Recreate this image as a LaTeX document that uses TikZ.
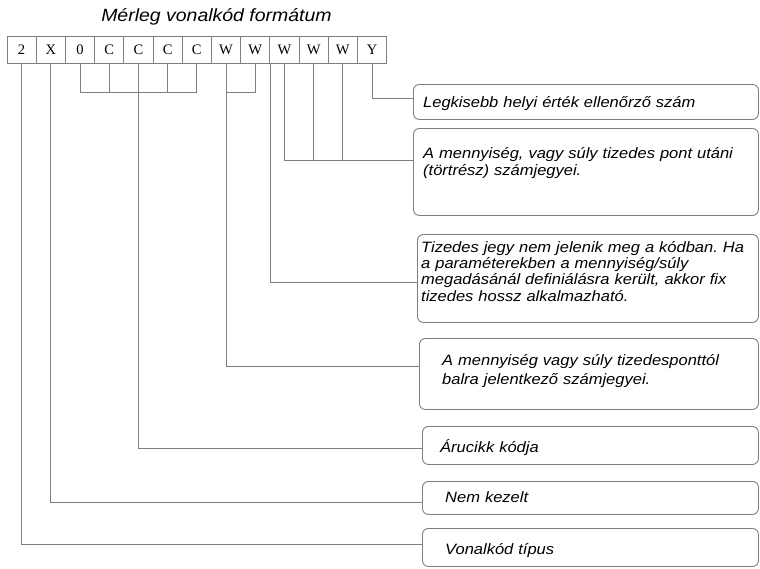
\documentclass[tikz,border=0pt]{standalone}
\usepackage{fontspec}
\setmainfont{Liberation Serif}
\newfontfamily\notefont[FakeStretch=1.1]{Liberation Sans}
\usetikzlibrary{positioning, calc}
\definecolor{linegray}{HTML}{7F7F7F}
\frenchspacing

\tikzset{
    digit/.style = {draw=linegray, line width=0.9pt, minimum width=29.2pt, minimum height=27pt, inner sep=0pt, font=\fontsize{14.5}{16}\selectfont},
    link/.style = {draw=linegray, line width=0.9pt},
    infobox/.style = {draw=linegray, line width=0.9pt, rounded corners=6pt, anchor=north west, inner sep=0pt},
    infotext/.style = {anchor=base west, inner sep=0pt, align=left, text width=335pt, font=\notefont\itshape\fontsize{15}{17}\selectfont},
    heading/.style = {anchor=base, inner sep=0pt, font=\notefont\itshape\fontsize{17.7}{20}\selectfont}
}

\begin{document}
\begin{tikzpicture}[x=1pt, y=-1pt]
        \useasboundingbox (0,0) rectangle (760,568);

        \node[heading] (cim) at (216.5,21) {Mérleg vonalkód formátum};

        % digits of the code
        \foreach \c [count=\i] in {2,X,0,C,C,C,C,W,W,W,W,W,Y}
            \node[digit] (d\i) at ({7+29.2*(\i-0.5)},49.5) {\c};

        % explanation boxes
        \node[infobox, minimum width=345pt, minimum height=35pt] (legk) at (413,84) {};
        \node[infobox, minimum width=345pt, minimum height=87pt] (tort) at (413,128) {};
        \node[infobox, minimum width=341pt, minimum height=88pt] (tiz) at (417,234) {};
        \node[infobox, minimum width=339pt, minimum height=71pt] (egesz) at (419,338) {};
        \node[infobox, minimum width=336pt, minimum height=38pt] (aru) at (422,426) {};
        \node[infobox, minimum width=336pt, minimum height=33pt] (nem) at (422,481) {};
        \node[infobox, minimum width=336pt, minimum height=38pt] (vonal) at (422,528) {};

        \node[infotext] (legk-t) at ([shift={(10,23)}]legk.north west) {Legkisebb helyi érték ellenőrző szám};
        \node[infotext] (tort-t) at ([shift={(10,30)}]tort.north west) {A mennyiség, vagy súly tizedes pont utáni\\(törtrész) számjegyei.};
        \node[infotext, font=\notefont\itshape\fontsize{15}{16.4}\selectfont] (tiz-t) at ([shift={(4,18)}]tiz.north west) {Tizedes jegy nem jelenik meg a kódban. Ha\\a paraméterekben a mennyiség/súly\\megadásánál definiálásra került, akkor fix\\tizedes hossz alkalmazható.};
        \node[infotext, font=\notefont\itshape\fontsize{15}{19}\selectfont] (egesz-t) at ([shift={(23,27)}]egesz.north west) {A mennyiség vagy súly tizedesponttól\\balra jelentkező számjegyei.};
        \node[infotext] (aru-t) at ([shift={(18,26)}]aru.north west) {Árucikk kódja};
        \node[infotext] (nem-t) at ([shift={(23,21)}]nem.north west) {Nem kezelt};
        \node[infotext] (vonal-t) at ([shift={(23,26)}]vonal.north west) {Vonalkód típus};

        % connectors
        \coordinate (cbar) at (0,92);
        \coordinate (fbar) at (0,160);

        \draw[link] (d1.south) |- ([yshift=3pt]vonal.west);
        \draw[link] (d2.south) |- ([yshift=-4.5pt]nem.west);

        \draw[link] (d3.south) |- (d7.south |- cbar) -- (d7.south);
        \foreach \k in {4,6}
            \draw[link] (d\k.south) -- (d\k.south |- cbar);
        \draw[link] (d5.south) |- ([yshift=-3pt]aru.west);

        \draw[link] (d8.south) |- (d9.south |- cbar) -- (d9.south);
        \draw[link] (d8.south) |- ([yshift=7.5pt]egesz.west);

        \draw[link] ([xshift=1pt]d10.south west) |- ([yshift=-4pt]tiz.west);

        \draw[link] (d10.south) |- ([yshift=11.5pt]tort.west);
        \foreach \k in {11,12}
            \draw[link] (d\k.south) -- (d\k.south |- fbar);

        \draw[link] (d13.south) |- ([yshift=3.5pt]legk.west);

    \end{tikzpicture}
\end{document}
